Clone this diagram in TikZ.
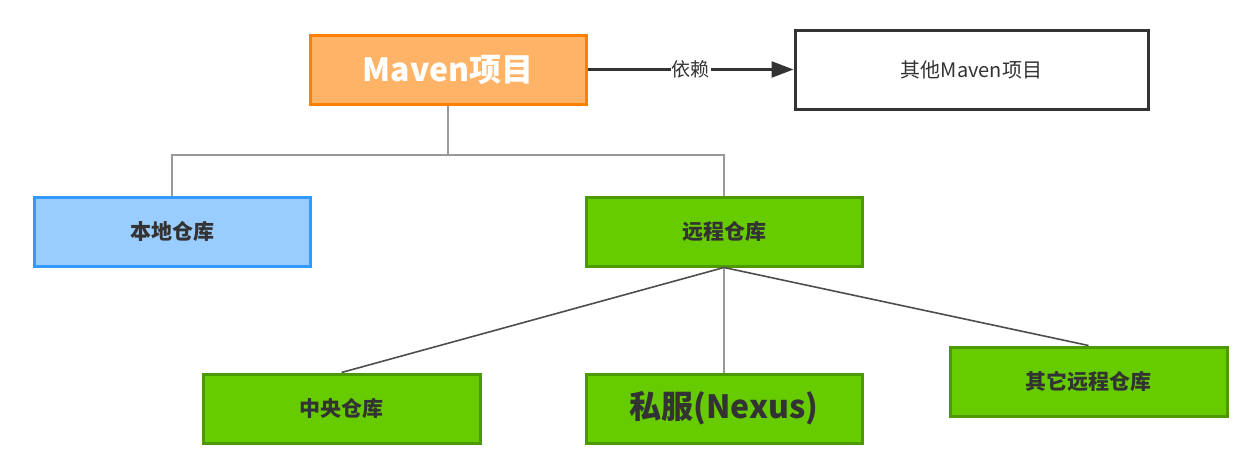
\documentclass[tikz,border=0pt]{standalone}
\usepackage{fontspec}
\setmainfont{Noto Sans CJK SC}
\usetikzlibrary{arrows.meta}
\definecolor{txt}{HTML}{333333}
\definecolor{orfill}{HTML}{FFB366}
\definecolor{ordraw}{HTML}{FF8000}
\definecolor{bfill}{HTML}{99CCFF}
\definecolor{bdraw}{HTML}{3399FF}
\definecolor{gfill}{HTML}{66CC00}
\definecolor{gdraw}{HTML}{4D9900}
\definecolor{treeline}{HTML}{999999}
\definecolor{diag}{HTML}{4D4D4D}
\tikzset{
  box/.style={rectangle, line width=3pt, minimum width=276pt, minimum height=69pt, inner sep=0pt, text=txt},
  orangebox/.style={box, fill=orfill, draw=ordraw, text=white, font=\fontsize{32}{35}\selectfont\bfseries},
  bluebox/.style={box, fill=bfill, draw=bdraw, font=\fontsize{21}{24}\selectfont\bfseries},
  greenbox/.style={box, fill=gfill, draw=gdraw, font=\fontsize{21}{24}\selectfont\bfseries},
  plainbox/.style={box, fill=white, draw=txt, line width=3pt, minimum width=353pt, minimum height=79pt, font=\fontsize{20}{23}\selectfont},
  tree/.style={draw=treeline, line width=2.2pt},
  diagline/.style={draw=diag, line width=1.6pt},
  dep/.style={draw=txt, line width=2.5pt, -{Triangle[length=22pt,width=16pt]}}
}
\begin{document}
\begin{tikzpicture}[x=1pt,y=-1pt]
\useasboundingbox (0,0) rectangle (1258,474);
\node[orangebox] (maven) at (448,69.5) {Maven项目};
\node[plainbox] (other) at (971.5,69.5) {其他Maven项目};
\node[bluebox] (local) at (172,231.5) {本地仓库};
\node[greenbox] (remote) at (724,231.5) {远程仓库};
\node[greenbox, minimum width=277pt] (central) at (341.5,408.5) {中央仓库};
\node[greenbox, font=\fontsize{32}{35}\selectfont\bfseries] (nexus) at (724,408.5) {私服(Nexus)};
\node[greenbox, minimum width=277pt] (others) at (1088.5,381.5) {其它远程仓库};
\coordinate (j) at (448,155);
\draw[dep] (maven.east) -- node[fill=white, inner sep=1pt, text=txt, font=\fontsize{19}{22}\selectfont] (deplabel) {依赖} (other.west);
\draw[tree] (maven.south) -- (j);
\draw[tree] (local.north) |- (j) -| (remote.north);
\draw[diagline] (remote.south) -- (central.north);
\draw[tree] (remote.south) -- (nexus.north);
\draw[diagline] (remote.south) -- (others.north);
\end{tikzpicture}
\end{document}
